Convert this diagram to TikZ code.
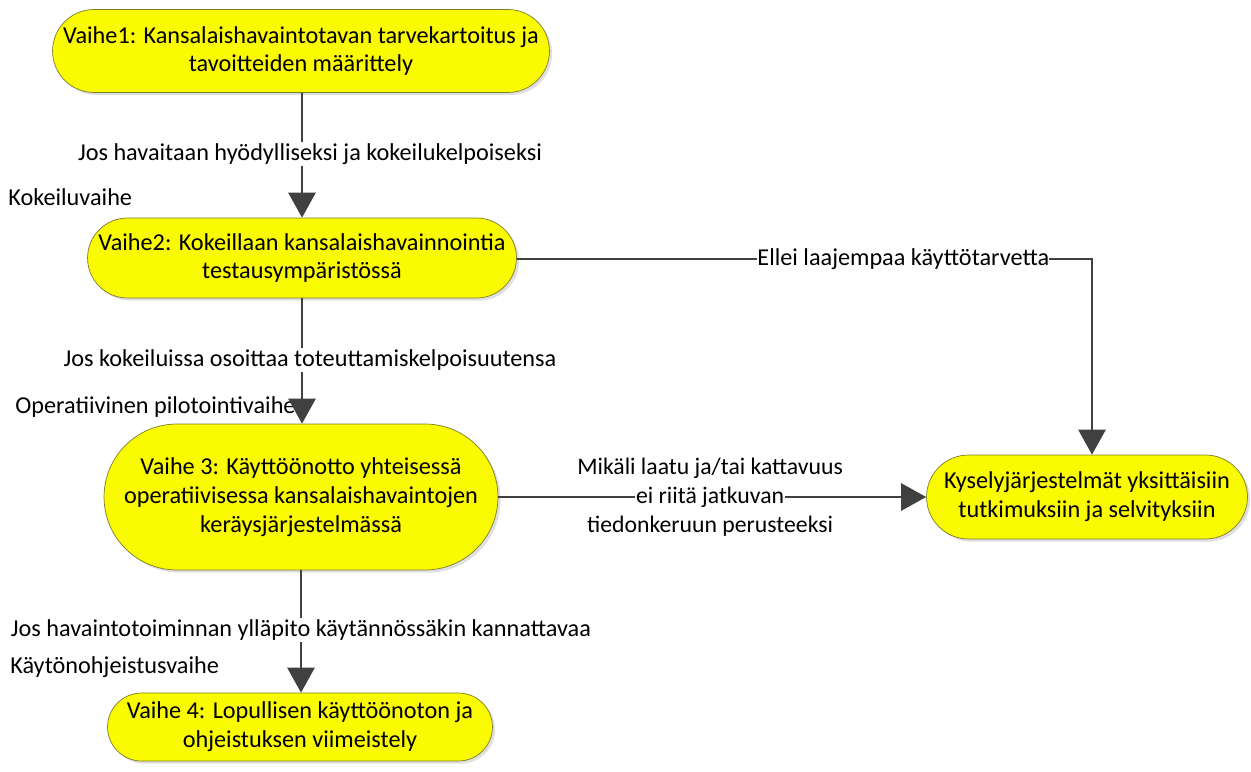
\documentclass[tikz,border=0pt]{standalone}
\usepackage{fontspec}
\setmainfont{Carlito}
\usetikzlibrary{shapes.misc,arrows.meta,shadows}
\definecolor{phasefill}{RGB}{250,250,0}
\definecolor{phaseline}{RGB}{125,125,45}
\definecolor{flowgray}{RGB}{64,64,64}
\setlength{\fboxsep}{0.5pt}
\begin{document}
\begin{tikzpicture}[x=0.02cm,y=-0.02cm,font=\fontsize{13.8}{16.4}\selectfont]
            \tikzstyle{phase}=[rounded rectangle,draw=phaseline,fill=phasefill,align=center,inner sep=0pt,
                drop shadow={opacity=0.25,shadow xshift=1.5pt,shadow yshift=-1.5pt}]
            \tikzstyle{flow}=[draw=flowgray,line width=1.6pt,-{Triangle[width=0.54cm,length=0.5cm]}]
            \tikzstyle{cond}=[fill=white,inner sep=1pt,align=center]
            \tikzstyle{stage}=[anchor=west,inner sep=0pt]
            \useasboundingbox (0,0) rectangle (1251,771);
            \node[phase,minimum width=9.94cm,minimum height=1.66cm] (vaihe1) at (301,51)
                {Vaihe1: Kansalaishavaintotavan tarvekartoitus ja\\tavoitteiden määrittely};
            \node[phase,minimum width=8.58cm,minimum height=1.6cm] (vaihe2) at (302,258)
                {Vaihe2: Kokeillaan kansalaishavainnointia\\testausympäristössä};
            \node[phase,minimum width=7.88cm,minimum height=2.92cm] (vaihe3) at (301,497)
                {Vaihe 3: Käyttöönotto yhteisessä\\operatiivisessa kansalaishavaintojen\\keräysjärjestelmässä};
            \node[phase,minimum width=7.7cm,minimum height=1.36cm] (vaihe4) at (300,727)
                {Vaihe 4: Lopullisen käyttöönoton ja\\ohjeistuksen viimeistely};
            \node[phase,minimum width=6.42cm,minimum height=1.68cm] (kysely) at (1087,497)
                {Kyselyjärjestelmät yksittäisiin\\tutkimuksiin ja selvityksiin};
            \node[stage] (kokeilu) at (8,197) {Kokeiluvaihe};
            \node[stage] (pilotointi) at (15,407) {Operatiivinen pilotointivaihe};
            \node[stage] (ohjeistus) at (10,667) {Käytönohjeistusvaihe};
            \coordinate (kulma) at (1092,259);
            \draw[flow] (vaihe1.south -| vaihe2.north) -- node[cond,xshift=0.16cm,pos=0.49]
                {Jos havaitaan hyödylliseksi ja kokeilukelpoiseksi} (vaihe2.north);
            \draw[flow] (vaihe2.south) -- node[cond,xshift=0.16cm,pos=0.49]
                {Jos kokeiluissa osoittaa toteuttamiskelpoisuutensa} (vaihe2.south |- vaihe3.north);
            \draw[flow] (vaihe3.south) -- node[cond,pos=0.49]
                {Jos havaintotoiminnan ylläpito käytännössäkin kannattavaa} (vaihe3.south |- vaihe4.north);
            \draw[flow] (vaihe2.east |- kulma) -- node[cond,inner xsep=0pt,pos=0.672]
                {Ellei laajempaa käyttötarvetta} (kulma) -- (kulma |- kysely.north);
            \draw[flow] (vaihe3.east) -- node[cond,fill=none,inner xsep=0pt,pos=0.495,font=\fontsize{13.5}{16.4}\selectfont]
                {Mikäli laatu ja/tai kattavuus\\\colorbox{white}{ei riitä jatkuvan}\\tiedonkeruun perusteeksi} (kysely.west);
\end{tikzpicture}
\end{document}
